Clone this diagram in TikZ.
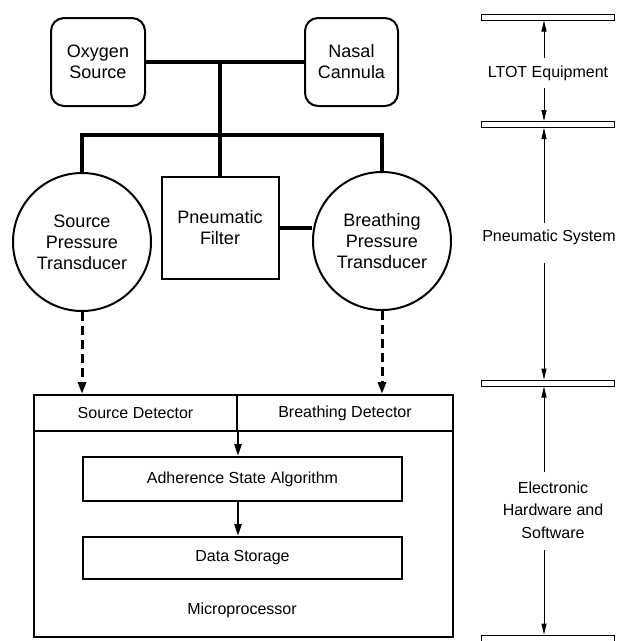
\documentclass[tikz,border=0pt]{standalone}
\usepackage{fontspec}
\setmainfont{Liberation Sans}
\usetikzlibrary{arrows.meta}
\begin{document}
\begin{tikzpicture}[x=1pt,y=-1pt,
  unit/.style={draw, line width=2pt, rounded corners=13pt, align=center,
    font=\fontsize{18}{21}\selectfont, inner sep=0pt},
  sensor/.style={draw, circle, line width=2pt, minimum size=138pt, inner sep=0pt,
    align=center, font=\fontsize{18}{21}\selectfont},
  block/.style={draw, line width=2pt, align=center, inner sep=0pt},
  pipe/.style={line width=4pt},
  signal/.style={line width=3pt, dash pattern=on 9pt off 5pt,
    -{Triangle[length=12pt,width=8pt]}},
  flow/.style={line width=2.5pt, -{Triangle[length=12pt,width=7pt]}},
  tier/.style={draw, line width=1pt, minimum width=133pt, minimum height=6pt, inner sep=0pt},
  span/.style={line width=1pt, -{Triangle[length=11pt,width=5pt]}},
  tiertext/.style={font=\fontsize{16}{22.5}\selectfont, align=center},
  small/.style={font=\fontsize{16}{20}\selectfont}
]
\useasboundingbox (0,0) rectangle (617,641);

% LTOT equipment
\node[unit, minimum width=94pt, minimum height=88pt] (os) at (98,62) {Oxygen\\Source};
\node[unit, minimum width=93pt, minimum height=88pt] (nc) at (351.5,62) {Nasal\\Cannula};

% pneumatic system
\node[block, minimum width=117pt, minimum height=102pt,
  font=\fontsize{18}{21}\selectfont] (pf) at (220,228) {Pneumatic\\Filter};
\node[sensor] (sp) at (82,242) {Source\\Pressure\\Transducer};
\node[sensor] (bp) at (382,241) {Breathing\\Pressure\\Transducer};

\coordinate (j1) at (pf.north |- os.east);
\coordinate (j2) at (220,135);
\draw[pipe] (os) -- (nc);
\draw[pipe] (j1) -- (pf.north);
\draw[pipe] (sp.north) |- (j2) -| (bp.north);
\draw[pipe] (pf.east) -- (pf.east -| bp.west);

% microprocessor
\node[draw, line width=2pt, minimum width=419pt, minimum height=242pt, inner sep=0pt]
  (mp) at (243.5,516) {};
\node[block, small, minimum width=203pt, minimum height=36pt] (sd) at (135.5,413) {Source Detector};
\node[block, small, minimum width=216pt, minimum height=36pt] (bd) at (345,413) {Breathing Detector};
\node[block, small, minimum width=319pt, minimum height=44pt] (alg) at (242.5,479) {Adherence State Algorithm};
\node[block, small, minimum width=319pt, minimum height=42pt] (ds) at (242.5,558) {Data Storage};
\node[small] (mpt) at (242,610) {Microprocessor};

\draw[flow] (sd.south east) -- (sd.south east |- alg.north);
\draw[flow] (sd.south east |- alg.south) -- (sd.south east |- ds.north);

\draw[signal] (sp.south) -- (sp.south |- mp.north);
\draw[signal] (bp.south) -- (bp.south |- mp.north);

% tiers on the right
\node[tier] (b1) at (548,17) {};
\node[tier] (b2) at (548,124.5) {};
\node[tier] (b3) at (548,383) {};
\node[tier] (b4) at (548,638) {};

\node[tiertext] (t1) at (548,73) {LTOT Equipment};
\node[tiertext] (t2) at (549,237) {Pneumatic System};
\node[tiertext] (t3) at (553,510) {Electronic\\Hardware and\\Software};

\coordinate (u1) at (544,58);
\coordinate (d1) at (544,88);
\coordinate (u2) at (544,223);
\coordinate (d2) at (544,263);
\coordinate (u3) at (544,472);
\coordinate (d3) at (544,550);

\draw[span] (u1) -- (u1 |- b1.south);
\draw[span] (d1) -- (d1 |- b2.north);
\draw[span] (u2) -- (u2 |- b2.south);
\draw[span] (d2) -- (d2 |- b3.north);
\draw[span] (u3) -- (u3 |- b3.south);
\draw[span] (d3) -- (d3 |- b4.north);
\end{tikzpicture}
\end{document}
